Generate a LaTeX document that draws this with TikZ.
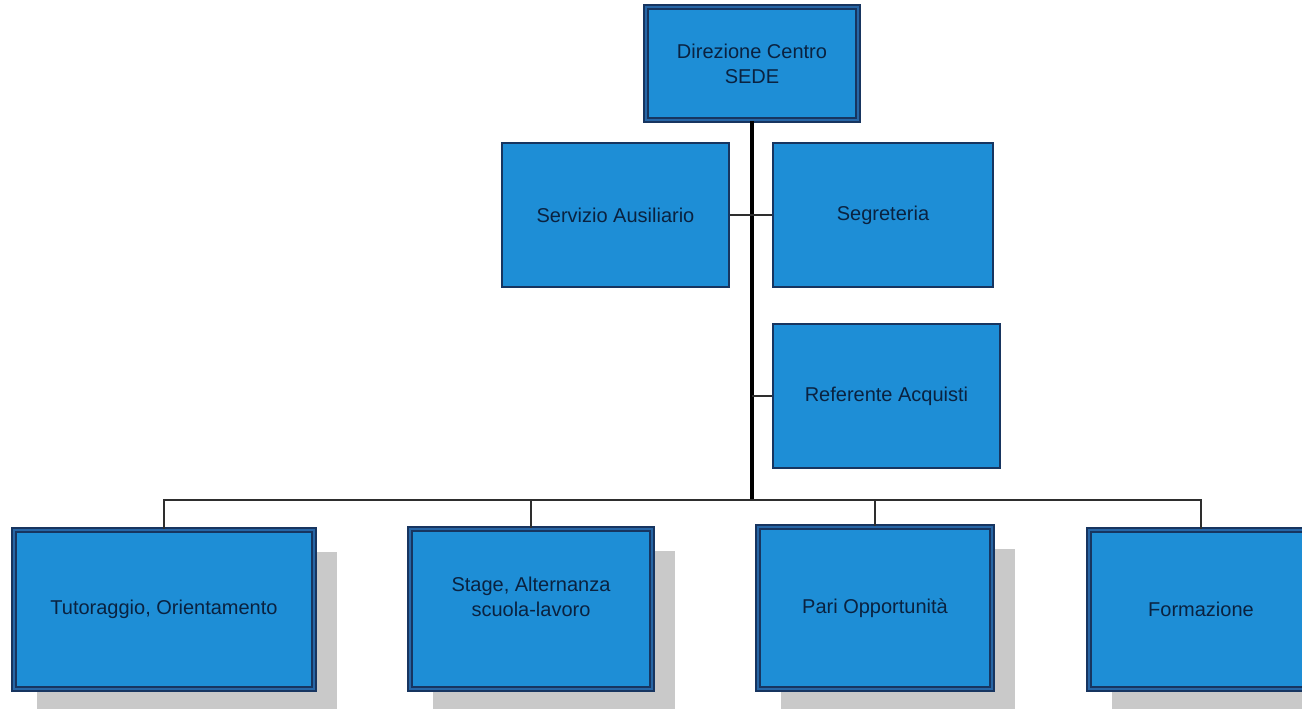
\documentclass[tikz,border=0pt]{standalone}
\usepackage{fontspec}
\setmainfont{Liberation Sans}
\usetikzlibrary{shadows}
\definecolor{boxblue}{HTML}{1E8ED6}
\definecolor{boxline}{HTML}{173560}
\definecolor{innerline}{HTML}{2766A6}
\definecolor{txtnavy}{HTML}{0A2240}
\definecolor{shadowgray}{HTML}{C9C9C9}
\definecolor{linegray}{HTML}{2E2E2E}
\tikzset{
  base/.style={rectangle, fill=boxblue, text=txtnavy, align=center,
    font=\fontsize{20}{25}\selectfont, inner sep=0pt},
  plainbox/.style={base, draw=boxline, line width=1.6pt},
  dblbox/.style={base, draw=boxline, line width=1.9pt, double=innerline, double distance=1.4pt},
  shadowbox/.style={dblbox, drop shadow={shadow xshift=23pt, shadow yshift=-22pt, opacity=1, fill=shadowgray}},
  trunk/.style={draw=black, line width=3.2pt},
  conn/.style={draw=linegray, line width=2.2pt},
}
\begin{document}
\begin{tikzpicture}[x=1pt, y=-1pt]
\clip (0,0) rectangle (1302,709);
\fill[white] (0,0) rectangle (1302,709);

\node[dblbox, minimum width=212pt, minimum height=113pt] (top) at (752,63.5) {Direzione Centro\\SEDE};
\node[plainbox, minimum width=227pt, minimum height=144pt] (serv) at (615.5,215) {Servizio Ausiliario};
\node[plainbox, minimum width=220pt, minimum height=144pt] (seg) at (883,215) {Segreteria};
\node[plainbox, minimum width=227pt, minimum height=144pt] (ref) at (886.5,396) {Referente Acquisti};

\coordinate (bus) at (752,500);
\coordinate (refj) at (752,396);

\node[shadowbox, minimum width=300pt, minimum height=159pt] (tut) at (164,609.5) {Tutoraggio, Orientamento};
\node[shadowbox, minimum width=242pt, minimum height=160pt] (stage) at (531,609) {Stage, Alternanza\\scuola-lavoro\\\mbox{}};
\node[shadowbox, minimum width=234pt, minimum height=162pt] (pari) at (875,608) {Pari Opportunità};
\node[shadowbox, minimum width=224pt, minimum height=159pt] (form) at (1201,609.5) {Formazione};

\draw[trunk] (top.south) -- (bus);
\draw[conn] (serv.east) -- (seg.west);
\draw[conn] (refj) -- (ref.west);
\draw[conn, line width=2.8pt] (tut.north) -- (tut.north |- bus) -- (form.north |- bus) -- (form.north);
\draw[conn] (stage.north) -- (stage.north |- bus);
\draw[conn] (pari.north) -- (pari.north |- bus);
\end{tikzpicture}
\end{document}
